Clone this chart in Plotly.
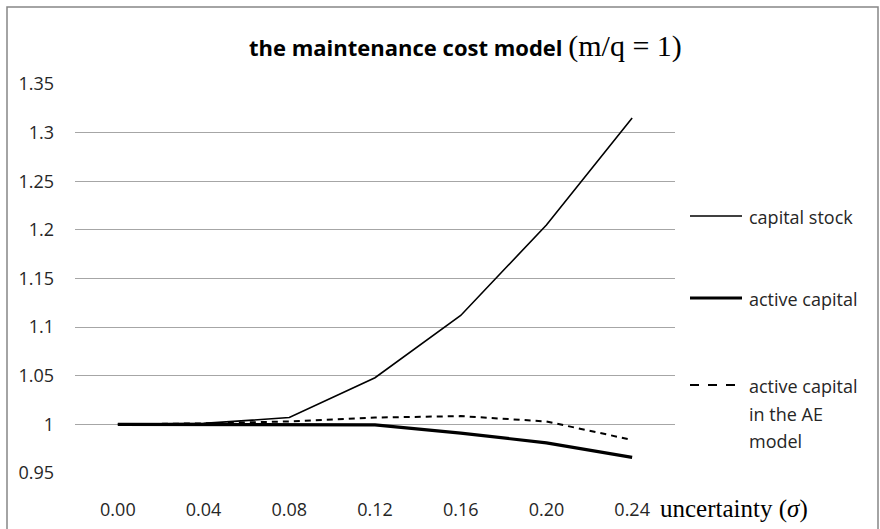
import plotly.graph_objects as go

# uncertainty levels (sigma) on the category axis
sigma_labels = ["0.00", "0.04", "0.08", "0.12", "0.16", "0.20", "0.24"]

# normalised series
capital_stock = [1.000, 1.001, 1.007, 1.048, 1.112, 1.205, 1.315]
active_capital = [1.000, 1.000, 0.9995, 0.9995, 0.991, 0.981, 0.966]
active_capital_ae = [1.000, 1.001, 1.003, 1.007, 1.0085, 1.003, 0.984]

y_ticks = [0.95, 1.0, 1.05, 1.1, 1.15, 1.2, 1.25, 1.3, 1.35]
y_tick_text = ["0.95", "1", "1.05", "1.1", "1.15", "1.2", "1.25", "1.3", "1.35"]

W, H = 880, 529
ML, MR, MT, MB = 75, 205, 84, 56
PW, PH = W - ML - MR, H - MT - MB

SANS = "Open Sans, sans-serif"
SERIF = "Liberation Serif, Times New Roman, serif"
TXT = "#262626"

fig = go.Figure()
fig.add_trace(go.Scatter(x=sigma_labels, y=capital_stock, mode="lines",
                         line=dict(color="black", width=1.6), name="capital stock"))
fig.add_trace(go.Scatter(x=sigma_labels, y=active_capital, mode="lines",
                         line=dict(color="black", width=3.2), name="active capital"))
fig.add_trace(go.Scatter(x=sigma_labels, y=active_capital_ae, mode="lines",
                         line=dict(color="black", width=2, dash="6px,5px"),
                         name="active capital in the AE model"))

fig.update_layout(
    width=W, height=H,
    margin=dict(l=ML, r=MR, t=MT, b=MB),
    paper_bgcolor="white", plot_bgcolor="white",
    showlegend=False,
    xaxis=dict(type="category", range=[-0.5, 6.5], showgrid=False, showline=False,
               zeroline=False, ticks="", automargin=False,
               tickfont=dict(family=SANS, size=18, color=TXT), ticklabelstandoff=24),
    yaxis=dict(range=[0.95, 1.35], tickvals=y_ticks, ticktext=y_tick_text,
               showgrid=True, gridcolor="#a6a6a6", gridwidth=1, zeroline=False,
               showline=False, ticks="", automargin=False,
               tickfont=dict(family=SANS, size=18, color=TXT), ticklabelstandoff=20),
)


# convert figure pixels to paper (plot-area) fractions
def px(x):
    return (x - ML) / PW


def py(y):
    return 1 - (y - MT) / PH


# outer chart frame
fig.add_shape(type="rect", xref="paper", yref="paper",
              x0=px(7), x1=px(878), y0=py(540), y1=py(7),
              line=dict(color="#868686", width=1.5), layer="below")

# title: bold sans part followed by a serif parenthetical
fig.add_annotation(xref="paper", yref="paper", x=px(465), y=py(46),
                   xanchor="center", yanchor="middle", showarrow=False,
                   text="<b>the maintenance cost model</b> "
                        "<span style='font-family:Liberation Serif, Times New Roman, serif;font-size:30px'>(m/q = 1)</span>",
                   font=dict(family=SANS, size=22, color="black"))

# axis caption
fig.add_annotation(xref="paper", yref="paper", x=px(658), y=py(509),
                   xanchor="left", yanchor="middle", showarrow=False,
                   text="uncertainty (<i>σ</i>)",
                   font=dict(family=SERIF, size=25, color="black"))

# legend keys drawn beside the plot
legend_items = [
    (216, 1.6, "solid", ["capital stock"]),
    (298, 3.2, "solid", ["active capital"]),
    (385, 2, "dash", ["active capital", "in the AE", "model"]),
]
for yk, lw, dash, lines in legend_items:
    fig.add_shape(type="line", xref="paper", yref="paper",
                  x0=px(690), x1=px(742), y0=py(yk), y1=py(yk),
                  line=dict(color="black", width=lw, dash=dash))
    for i, t in enumerate(lines):
        fig.add_annotation(xref="paper", yref="paper", x=px(747), y=py(yk + 1 + 27.5 * i),
                           xanchor="left", yanchor="middle", showarrow=False,
                           text=t, font=dict(family=SANS, size=18, color=TXT))

fig.write_html("out.html")
